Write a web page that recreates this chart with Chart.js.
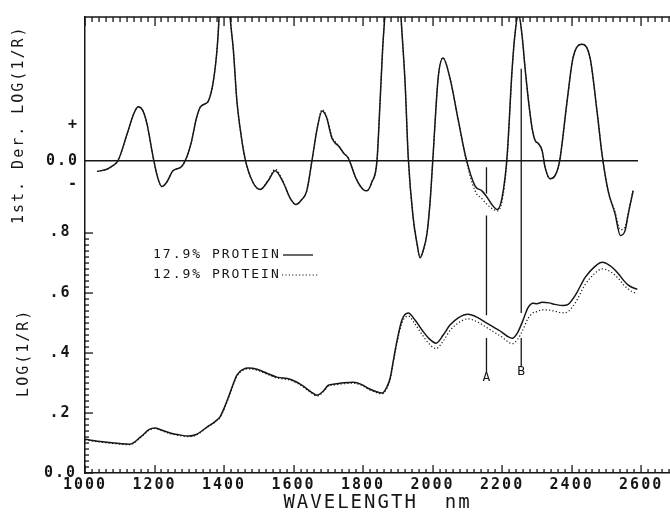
<!DOCTYPE html>
<html><head><meta charset="utf-8">
<script src="https://cdn.jsdelivr.net/npm/chart.js@4/dist/chart.umd.min.js"></script>
<style>html,body{margin:0;padding:0;background:#fff;}canvas{display:block;}</style>
</head><body>
<canvas id="c" width="670" height="522"></canvas>
<script>
const wavelengthTicks = [1000,1200,1400,1600,1800,2000,2200,2400,2600];
const logTickValues = [0, 0.2, 0.4, 0.6, 0.8];
const logTickLabels = ['0.0', '.2', '.4', '.6', '.8'];
const derivTickValues = [-0.33, 0, 0.5];
const derivTickLabels = ['-', '0.0', '+'];
const seriesNames = ['17.9% PROTEIN', '12.9% PROTEIN'];

const logWavelengths = [1000,1050,1100,1129,1160,1185,1201,1220,1245,1270,1297,1320,1351,1375,1388,1400,1417,1437,1455,1470,1495,1523,1552,1590,1610,1628,1650,1667,1685,1700,1719,1745,1771,1795,1814,1835,1855,1868,1878,1888,1898,1912,1930,1950,1970,1990,2010,2030,2050,2075,2102,2130,2157,2180,2200,2215,2229,2245,2258,2275,2289,2300,2315,2335,2352,2375,2390,2410,2439,2465,2488,2510,2534,2550,2563,2575,2589];
const logHigh = [0.112,0.104,0.098,0.096,0.120,0.145,0.150,0.143,0.133,0.127,0.123,0.128,0.153,0.172,0.186,0.215,0.266,0.326,0.345,0.349,0.345,0.332,0.319,0.312,0.302,0.289,0.270,0.259,0.272,0.292,0.296,0.300,0.302,0.295,0.282,0.272,0.266,0.285,0.316,0.380,0.442,0.510,0.532,0.508,0.475,0.447,0.432,0.458,0.492,0.517,0.528,0.517,0.498,0.482,0.468,0.455,0.448,0.468,0.502,0.551,0.565,0.563,0.568,0.566,0.561,0.557,0.561,0.590,0.651,0.685,0.701,0.690,0.664,0.640,0.625,0.617,0.611];
const logLow = [0.110,0.102,0.096,0.094,0.118,0.143,0.148,0.141,0.131,0.125,0.121,0.126,0.151,0.170,0.184,0.212,0.262,0.322,0.342,0.346,0.342,0.329,0.316,0.309,0.299,0.286,0.267,0.256,0.269,0.289,0.293,0.297,0.299,0.292,0.279,0.269,0.263,0.281,0.311,0.375,0.435,0.500,0.522,0.495,0.460,0.430,0.414,0.438,0.474,0.500,0.513,0.502,0.483,0.466,0.452,0.438,0.430,0.445,0.472,0.515,0.533,0.537,0.543,0.542,0.538,0.533,0.537,0.565,0.627,0.662,0.679,0.671,0.648,0.625,0.612,0.603,0.598];

const derivWavelengths = [1035,1063,1080,1095,1121,1140,1153,1166,1178,1196,1210,1221,1235,1253,1278,1295,1307,1320,1331,1345,1355,1368,1378,1383,1392,1402,1411,1417,1427,1437,1446,1460,1483,1504,1527,1547,1570,1590,1607,1622,1638,1653,1668,1682,1695,1710,1719,1730,1745,1757,1780,1800,1811,1825,1840,1849,1856,1863,1872,1886,1900,1909,1921,1930,1944,1955,1964,1973,1984,1993,2001,2016,2030,2050,2074,2096,2122,2142,2157,2172,2186,2200,2214,2229,2237,2247,2257,2266,2276,2286,2295,2304,2315,2324,2338,2352,2361,2367,2387,2404,2430,2453,2473,2488,2505,2525,2540,2554,2563,2577];
const derivHigh = [-0.15,-0.12,-0.07,0.00,0.37,0.65,0.75,0.70,0.52,0.05,-0.25,-0.36,-0.30,-0.14,-0.08,0.08,0.28,0.58,0.74,0.79,0.83,1.07,1.45,1.76,2.60,3.00,2.60,2.04,1.53,0.83,0.46,0.04,-0.30,-0.40,-0.28,-0.14,-0.30,-0.52,-0.61,-0.55,-0.42,0.00,0.45,0.69,0.60,0.32,0.25,0.20,0.10,0.04,-0.25,-0.40,-0.42,-0.30,0.00,0.83,1.53,2.05,2.80,3.30,2.80,2.01,1.07,0.04,-0.79,-1.15,-1.35,-1.25,-1.01,-0.56,0.04,1.15,1.43,1.15,0.56,0.04,-0.35,-0.42,-0.51,-0.62,-0.68,-0.51,0.04,1.29,1.76,2.05,1.76,1.29,0.83,0.46,0.28,0.24,0.14,-0.10,-0.25,-0.21,-0.10,0.04,0.83,1.43,1.62,1.43,0.69,0.07,-0.42,-0.74,-1.04,-0.97,-0.74,-0.42];
const derivLow = [-0.15,-0.12,-0.07,0.00,0.37,0.65,0.75,0.70,0.52,0.05,-0.25,-0.36,-0.30,-0.14,-0.08,0.08,0.28,0.58,0.74,0.79,0.83,1.07,1.45,1.76,2.60,3.00,2.60,2.04,1.53,0.83,0.46,0.04,-0.30,-0.40,-0.27,-0.12,-0.29,-0.52,-0.61,-0.55,-0.42,0.00,0.45,0.71,0.62,0.34,0.27,0.21,0.10,0.04,-0.25,-0.40,-0.42,-0.30,0.00,0.83,1.53,2.05,2.80,3.30,2.80,2.01,1.07,0.04,-0.79,-1.15,-1.35,-1.25,-1.01,-0.56,0.04,1.15,1.43,1.15,0.56,0.02,-0.42,-0.53,-0.61,-0.67,-0.70,-0.56,0.00,1.27,1.76,2.05,1.76,1.29,0.83,0.46,0.28,0.24,0.14,-0.10,-0.25,-0.21,-0.10,0.04,0.83,1.43,1.62,1.43,0.69,0.07,-0.42,-0.71,-0.96,-0.92,-0.72,-0.40];

const zeroLineRange = [1000, 2591];
const markerNames = ['A', 'B'];
const markerWavelengths = [2155, 2255];
const markerSegments = [
  [[1.017, 0.930], [0.857, 0.525], [0.449, 0.336]],
  [[1.345, 0.532], [0.449, 0.352]]
];
const markerLabelValues = [0.316, 0.336];

const INK = '#161616';
const MONO = '"DejaVu Sans Mono", "Liberation Mono", monospace';

function pts(xs, ys) { return xs.map((x, i) => ({x: x, y: ys[i]})); }
function markerData(k) {
  const out = [];
  markerSegments[k].forEach(seg => {
    out.push({x: markerWavelengths[k], y: seg[0]});
    out.push({x: markerWavelengths[k], y: seg[1]});
    out.push({x: markerWavelengths[k], y: null});
  });
  return out;
}

const clipDown = {left: 0, right: 0, top: 0, bottom: 300};
const clipUp = {left: 0, right: 0, top: 300, bottom: 0};

const solid = {borderColor: INK, borderWidth: 1.5, pointRadius: 0, fill: false, cubicInterpolationMode: 'monotone'};
const dotted = {borderColor: INK, borderWidth: 1.2, borderDash: [1.2, 2.2], pointRadius: 0, fill: false, cubicInterpolationMode: 'monotone'};

const paperPlugin = {
  id: 'paper',
  beforeUpdate(chart) { chart.ctx.letterSpacing = '2px'; },
  beforeDraw(chart) {
    const c = chart.ctx;
    c.save(); c.fillStyle = '#fff'; c.fillRect(0, 0, chart.width, chart.height); c.restore();
    c.letterSpacing = '2px';
  }
};

const frameTicksPlugin = {
  id: 'frameTicks',
  afterDatasetsDraw(chart) {
    const c = chart.ctx, a = chart.chartArea, xs = chart.scales.x, ys = chart.scales.y;
    c.save();
    c.fillStyle = INK;
    // top frame line
    c.fillRect(a.left, a.top - 0.75, a.right - a.left, 1.5);
    // wavelength ticks on bottom (upward) and top (downward)
    for (let w = 1000; w <= 2680; w += 20) {
      const px = Math.round(xs.getPixelForValue(w));
      const major = (w % 200 === 0);
      c.fillRect(px - 0.6, a.bottom - (major ? 8 : 4), 1.3, major ? 8 : 4);
      c.fillRect(px - 0.6, a.top, 1.3, major ? 9 : 5);
    }
    // LOG(1/R) ticks on left axis (rightward)
    for (let k = 0; k <= 40; k++) {
      const py = Math.round(ys.getPixelForValue(k * 0.02));
      const major = (k % 10 === 0);
      c.fillRect(a.left, py - 0.6, major ? 8 : 4, 1.3);
    }
    c.restore();
  },
  afterDraw(chart) {
    const c = chart.ctx, xs = chart.scales.x, ys = chart.scales.y;
    c.save();
    c.strokeStyle = INK; c.fillStyle = INK;
    c.letterSpacing = '2px';
    c.font = '13px ' + MONO;
    c.textAlign = 'left'; c.textBaseline = 'middle';
    c.fillText(seriesNames[0], 153, 255);
    c.fillText(seriesNames[1], 153, 275);
    c.lineWidth = 1.3;
    c.beginPath(); c.moveTo(283, 255); c.lineTo(313, 255); c.stroke();
    c.setLineDash([1.2, 2.2]); c.lineWidth = 1.2;
    c.beginPath(); c.moveTo(282, 275); c.lineTo(318, 275); c.stroke();
    c.setLineDash([]);
    c.textAlign = 'center';
    markerNames.forEach((n, k) => {
      c.fillText(n, xs.getPixelForValue(markerWavelengths[k]) + 1, ys.getPixelForValue(markerLabelValues[k]));
    });
    c.restore();
  }
};

const datasets = [
  Object.assign({label: seriesNames[0], yAxisID: 'y', clip: clipUp, data: pts(logWavelengths, logHigh)}, solid),
  Object.assign({label: seriesNames[1], yAxisID: 'y', clip: clipUp, data: pts(logWavelengths, logLow)}, dotted),
  Object.assign({label: 'deriv ' + seriesNames[0], yAxisID: 'y2', clip: clipDown, data: pts(derivWavelengths, derivHigh)}, solid),
  Object.assign({label: 'deriv ' + seriesNames[1], yAxisID: 'y2', clip: clipDown, data: pts(derivWavelengths, derivLow)}, dotted),
  {label: 'zero', yAxisID: 'y2', clip: clipDown, data: [{x: zeroLineRange[0], y: 0}, {x: zeroLineRange[1], y: 0}], borderColor: INK, borderWidth: 1.5, pointRadius: 0, tension: 0},
  {label: 'A', yAxisID: 'y', clip: clipUp, data: markerData(0), borderColor: INK, borderWidth: 1.3, pointRadius: 0, tension: 0, spanGaps: false},
  {label: 'B', yAxisID: 'y', clip: clipUp, data: markerData(1), borderColor: INK, borderWidth: 1.3, pointRadius: 0, tension: 0, spanGaps: false}
];

new Chart(document.getElementById('c'), {
  type: 'line',
  data: {datasets: datasets},
  plugins: [paperPlugin, frameTicksPlugin],
  options: {
    responsive: false, animation: false, devicePixelRatio: 1,
    layout: {padding: {top: 16, right: 0, left: 0, bottom: 0}},
    plugins: {legend: {display: false}, tooltip: {enabled: false}},
    scales: {
      x: {
        type: 'linear', position: 'bottom', min: 1000, max: 2683,
        afterBuildTicks: s => { s.ticks = wavelengthTicks.map(v => ({value: v})); },
        afterFit: s => { s.height = 49; },
        grid: {display: false, drawTicks: false},
        border: {display: true, color: INK, width: 1.5},
        ticks: {padding: 3, color: INK, maxRotation: 0, autoSkip: false, font: {family: MONO, size: 15, weight: 'bold'}, callback: v => String(v)},
        title: {display: true, text: 'WAVELENGTH  nm', color: INK, font: {family: MONO, size: 19}, padding: {top: 0, bottom: 8}}
      },
      y: {
        type: 'linear', position: 'left', stack: 'left', stackWeight: 241, min: 0, max: 0.8,
        afterBuildTicks: s => { s.ticks = logTickValues.map(v => ({value: v})); },
        afterFit: s => { s.width = 85; },
        grid: {display: false, drawTicks: false},
        border: {display: true, color: INK, width: 1.5},
        ticks: {crossAlign: 'center', padding: 8, color: INK, autoSkip: false, font: {family: MONO, size: 15, weight: 'bold'}, callback: (v, i) => logTickLabels[i]},
        title: {display: true, text: 'LOG(1/R)', color: INK, font: {family: MONO, size: 15}, padding: {top: 15, bottom: 0}}
      },
      y2: {
        type: 'linear', position: 'left', stack: 'left', stackWeight: 216, min: -1, max: 2,
        afterBuildTicks: s => { s.ticks = derivTickValues.map(v => ({value: v})); },
        afterFit: s => { s.width = 85; },
        grid: {display: false, drawTicks: false},
        border: {display: true, color: INK, width: 1.5},
        ticks: {crossAlign: 'near', padding: 6, color: INK, autoSkip: false, font: {family: MONO, size: 15, weight: 'bold'}, callback: (v, i) => derivTickLabels[i]},
        title: {display: true, text: '1st. Der. LOG(1/R)', color: INK, font: {family: MONO, size: 15}, padding: {top: 10, bottom: 0}}
      }
    }
  }
});
</script>
</body></html>
